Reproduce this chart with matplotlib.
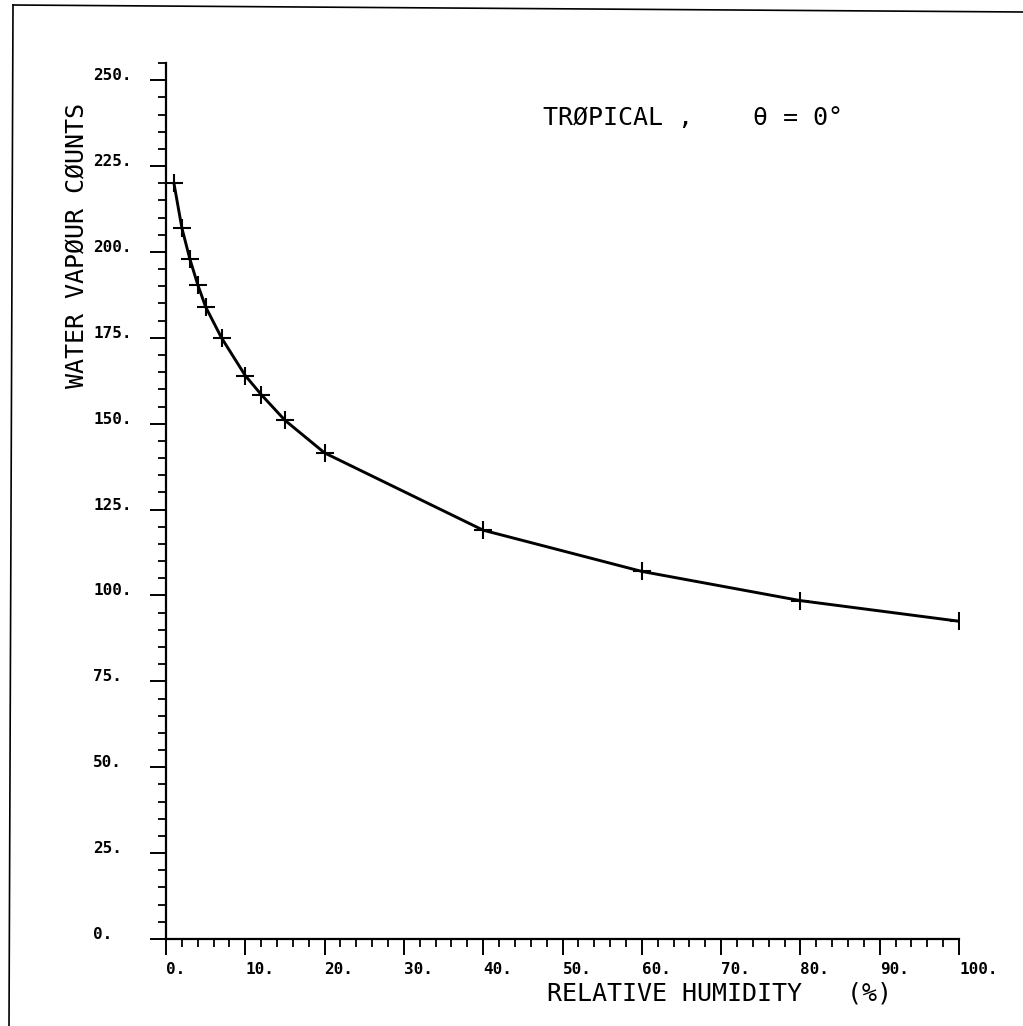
import matplotlib
matplotlib.use("Agg")
import matplotlib.pyplot as plt
from matplotlib.lines import Line2D
from matplotlib.ticker import MultipleLocator

# relative humidity (%) and water vapour counts
humidity = [1, 2, 3, 4, 5, 7, 10, 12, 15, 20, 40, 60, 80, 100]
counts = [220, 207, 198, 190.5, 184, 175, 164, 158.5, 151, 141.5, 119, 107, 98.5, 92.5]

x_ticks = list(range(0, 101, 10))
y_ticks = list(range(0, 251, 25))
x_tick_labels = [f"{v}." for v in x_ticks]
y_tick_labels = [f"{v}." for v in y_ticks]

title_text = "TRØPICAL ,    θ = 0°"
xlabel_text = "RELATIVE HUMIDITY   (%)"
ylabel_text = "WATER VAPØUR CØUNTS"

W, H = 1023, 1026
fig = plt.figure(figsize=(W / 100, H / 100), dpi=100)
ax = fig.add_axes([166 / W, (H - 939) / H, (959 - 166) / W, (939 - 63) / H])

ax.plot(humidity, counts, color="black", linewidth=2.1,
        marker="+", markersize=13, markeredgewidth=1.5)

ax.set_xlim(0, 100)
ax.set_ylim(0, 255)

for side in ["top", "right"]:
    ax.spines[side].set_visible(False)
for side in ["left", "bottom"]:
    ax.spines[side].set_linewidth(1.6)

ax.xaxis.set_minor_locator(MultipleLocator(2))
ax.yaxis.set_minor_locator(MultipleLocator(5))
ax.tick_params(which="major", direction="out", length=11.5, width=1.4, color="black")
ax.tick_params(which="minor", direction="out", length=6, width=1.3, color="black")
ax.tick_params(axis="y", which="major", pad=41)
ax.tick_params(axis="x", which="major", pad=5)

tick_font = dict(family="DejaVu Sans Mono", size=11.5, weight="bold")
ax.set_xticks(x_ticks)
ax.set_xticklabels(x_tick_labels, ha="left", **tick_font)
ax.set_yticks(y_ticks)
ax.set_yticklabels(y_tick_labels, ha="left", va="baseline", **tick_font)

label_font = dict(family="DejaVu Sans Mono", size=18)
ax.text(47.5, 237, title_text, ha="left", va="baseline", **label_font)
ax.text(48, -0.07, xlabel_text, ha="left", va="baseline",
        transform=ax.get_xaxis_transform(), **label_font)
fig.text(77 / W, 1 - 103 / H, ylabel_text, rotation=90, ha="center", va="top", **label_font)

# page border left over from the scan
fig.add_artist(Line2D([13 / W, 9 / W], [1 - 5 / H, 0], transform=fig.transFigure,
                      color="black", linewidth=1.2))
fig.add_artist(Line2D([13 / W, 1], [1 - 5 / H, 1 - 12 / H], transform=fig.transFigure,
                      color="black", linewidth=1.2))

fig.savefig("out.png", dpi=100, facecolor="white")
